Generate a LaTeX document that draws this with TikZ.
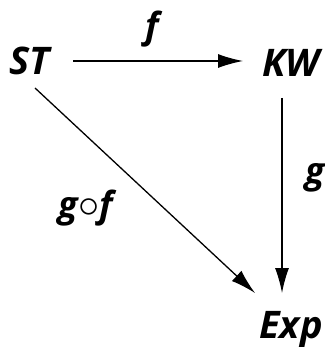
\documentclass[tikz,border=0pt]{standalone}
\usepackage{fontspec}
\setmainfont{Open Sans}
\usetikzlibrary{positioning, calc, arrows.meta}

\begin{document}
\begin{tikzpicture}[x=1pt, y=-1pt, line width=1.3pt, >={Latex[length=25pt, width=14pt]},
    obj/.style={inner sep=0pt, font=\fontsize{38}{40}\selectfont\bfseries\itshape},
    lbl/.style={inner sep=0pt, font=\fontsize{36}{38}\selectfont\bfseries\itshape}]

    \useasboundingbox (0,0) rectangle (324,347);

    % --- Objects ---
    \node[obj, anchor=base] (ST) at (30,75) {ST};
    \node[obj, anchor=base] (KW) at (291,77) {KW};
    \node[obj, anchor=base] (EXP) at (291,338) {Exp};

    % --- Arrow endpoints ---
    \coordinate (fS) at (73,61);
    \coordinate (fE) at (243,61);
    \coordinate (gS) at (282,98);
    \coordinate (gE) at (282,293);
    \coordinate (hS) at (35,88);
    \coordinate (hE) at (255,293);

    % --- Arrows ---
    \draw[->] (fS) -- (fE);
    \draw[->] (gS) -- (gE);
    \draw[->] (hS) -- (hE);

    % --- Labels ---
    \node[lbl] (F) at (152,29) {f};
    \node[lbl] (G) at (315,178) {g};
    \node[lbl] (GF) at (86,208) {g\scalebox{1.7}{$\circ$}f};

\end{tikzpicture}
\end{document}
